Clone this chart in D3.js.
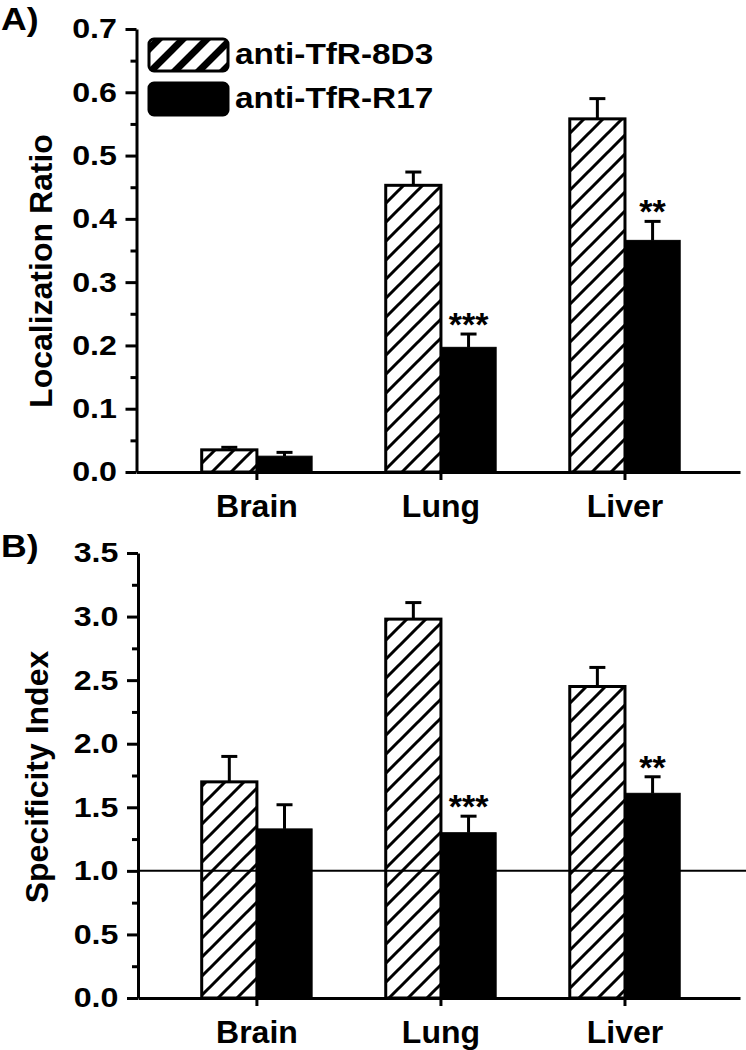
<!DOCTYPE html>
<html><head><meta charset="utf-8">
<script src="https://cdn.jsdelivr.net/npm/d3@7"></script>
<style>body{margin:0;background:#fff}</style>
</head><body>
<svg id="c" width="746" height="1050"></svg>
<script>
// ---- data ----
const categories = ["Brain", "Lung", "Liver"];
const seriesNames = ["anti-TfR-8D3", "anti-TfR-R17"];
const ratio8D3 = [0.035, 0.453, 0.558];
const ratio8D3Err = [0.004, 0.021, 0.032];
const ratioR17 = [0.025, 0.197, 0.366];
const ratioR17Err = [0.006, 0.021, 0.030];
const ratioStars = ["", "***", "**"];
const spec8D3 = [1.70, 2.98, 2.45];
const spec8D3Err = [0.20, 0.13, 0.15];
const specR17 = [1.33, 1.30, 1.61];
const specR17Err = [0.19, 0.13, 0.13];
const specStars = ["", "***", "**"];
const ratioTicks = [0.0, 0.1, 0.2, 0.3, 0.4, 0.5, 0.6, 0.7];
const ratioMinor = [0.05, 0.15, 0.25, 0.35, 0.45, 0.55, 0.65];
const specTicks = [0.0, 0.5, 1.0, 1.5, 2.0, 2.5, 3.0, 3.5];
const specMinor = [0.25, 0.75, 1.25, 1.75, 2.25, 2.75, 3.25];
const specRefValue = 1.0;

// ---- drawing ----
const FONT = "'Liberation Sans', Arial, Helvetica, sans-serif";
const svg = d3.select("#c");
const defs = svg.append("defs");
const p1 = defs.append("pattern").attr("id", "hatch").attr("patternUnits", "userSpaceOnUse")
  .attr("width", 19).attr("height", 19);
p1.append("rect").attr("width", 19).attr("height", 19).attr("fill", "#fff");
p1.append("path").attr("d", "M-5,24L24,-5M-5,5L5,-5M14,24L24,14")
  .attr("stroke", "#000").attr("stroke-width", 3);
const p2 = defs.append("pattern").attr("id", "hatchL").attr("patternUnits", "userSpaceOnUse")
  .attr("width", 24).attr("height", 24).attr("x", 6);
p2.append("rect").attr("width", 24).attr("height", 24).attr("fill", "#fff");
p2.append("path").attr("d", "M-6,30L30,-6M-6,6L6,-6M18,30L30,18")
  .attr("stroke", "#000").attr("stroke-width", 7);

const x = d3.scaleLinear().domain([0.343, 3.625]).range([136, 740]);
const barW = 0.3;

function panel(o) {
  const g = svg.append("g");
  const y = d3.scaleLinear().domain([0, o.yMax]).range([o.bottom, o.top]);
  const xs = d3.scaleLinear().domain(x.domain()).range([o.axisX, 740]);

  // bars
  g.selectAll(".b1").data(categories).join("rect")
    .attr("x", (d, i) => x(i + 1 - barW)).attr("width", (d, i) => x(i + 1) - x(i + 1 - barW))
    .attr("y", (d, i) => y(o.v1[i])).attr("height", (d, i) => y(0) - y(o.v1[i]))
    .attr("fill", "url(#hatch)").attr("stroke", "#000").attr("stroke-width", 3);
  g.selectAll(".b2").data(categories).join("rect")
    .attr("x", (d, i) => x(i + 1)).attr("width", (d, i) => x(i + 1 + barW) - x(i + 1))
    .attr("y", (d, i) => y(o.v2[i])).attr("height", (d, i) => y(0) - y(o.v2[i]))
    .attr("fill", "#000").attr("stroke", "#000").attr("stroke-width", 1);

  // error bars
  function err(vals, errs, off) {
    categories.forEach((c, i) => {
      const cx = x(i + 1 + off);
      g.append("line").attr("x1", cx).attr("x2", cx)
        .attr("y1", y(vals[i])).attr("y2", y(vals[i] + errs[i]))
        .attr("stroke", "#000").attr("stroke-width", 3);
      g.append("line").attr("x1", cx - 8).attr("x2", cx + 8)
        .attr("y1", y(vals[i] + errs[i])).attr("y2", y(vals[i] + errs[i]))
        .attr("stroke", "#000").attr("stroke-width", 3);
    });
  }
  err(o.v1, o.e1, -barW / 2);
  err(o.v2, o.e2, barW / 2);

  // stars
  g.selectAll(".st").data(o.stars).join("text")
    .attr("x", (d, i) => x(i + 1 + barW / 2))
    .attr("y", (d, i) => y(o.v2[i] + o.e2[i]) + 2)
    .attr("text-anchor", "middle").attr("font-family", FONT).attr("font-weight", "bold")
    .attr("font-size", 34).text(d => d);

  // reference line
  if (o.refLine !== undefined) {
    g.append("line").attr("x1", o.axisX).attr("x2", 746)
      .attr("y1", y(o.refLine)).attr("y2", y(o.refLine))
      .attr("stroke", "#000").attr("stroke-width", 2);
  }

  // y axis
  const ya = g.append("g").attr("transform", `translate(${o.axisX},0)`)
    .call(d3.axisLeft(y).tickValues(o.ticks).tickSize(11).tickSizeOuter(0).tickPadding(6)
      .tickFormat(d3.format(".1f")));
  ya.select(".domain").attr("stroke-width", 3);
  ya.selectAll(".tick line").attr("stroke-width", 3);
  ya.selectAll("text").attr("font-family", FONT).attr("font-weight", "bold")
    .attr("font-size", 28).attr("transform", "scale(1.15,1)").attr("fill", "#000");
  const ym = g.append("g").attr("transform", `translate(${o.axisX},0)`)
    .call(d3.axisLeft(y).tickValues(o.minor).tickSize(6).tickFormat(""));
  ym.select(".domain").remove();
  ym.selectAll(".tick line").attr("stroke-width", 3);

  // x axis
  const xa = g.append("g").attr("transform", `translate(0,${o.bottom})`)
    .call(d3.axisBottom(xs).tickValues([1, 2, 3]).tickSize(8).tickSizeOuter(0).tickPadding(14)
      .tickFormat(i => categories[i - 1]));
  xa.select(".domain").attr("stroke-width", 3);
  xa.selectAll(".tick").attr("transform", (d) => `translate(${x(d)},0)`);
  xa.selectAll(".tick line").attr("stroke-width", 3);
  xa.selectAll("text").attr("font-family", FONT).attr("font-weight", "bold")
    .attr("font-size", 32).attr("fill", "#000");

  // y label
  g.append("text").attr("transform", `translate(${o.labelX},${o.labelY}) rotate(-90)`)
    .attr("text-anchor", "middle").attr("font-family", FONT).attr("font-weight", "bold")
    .attr("font-size", 32).text(o.label);

  // panel letter
  g.append("text").attr("transform", `translate(1,${o.letterY}) scale(1.15,1)`)
    .attr("font-family", FONT).attr("font-weight", "bold").attr("font-size", 31).text(o.letter);
  return g;
}

panel({v1: ratio8D3, e1: ratio8D3Err, v2: ratioR17, e2: ratioR17Err, stars: ratioStars,
  ticks: ratioTicks, minor: ratioMinor, yMax: 0.7, top: 29, bottom: 472, axisX: 136.5,
  label: "Localization Ratio", labelX: 52, labelY: 271, letter: "A)", letterY: 30});
panel({v1: spec8D3, e1: spec8D3Err, v2: specR17, e2: specR17Err, stars: specStars,
  ticks: specTicks, minor: specMinor, yMax: 3.5, top: 553, bottom: 998, axisX: 138,
  label: "Specificity Index", labelX: 48, labelY: 777, letter: "B)", letterY: 557,
  refLine: specRefValue});

// legend
const lg = svg.append("g");
const fills = ["url(#hatchL)", "#000"];
lg.selectAll("rect").data(seriesNames).join("rect")
  .attr("x", 149).attr("y", (d, i) => 39 + i * 44).attr("width", 79).attr("height", 32)
  .attr("rx", 5).attr("fill", (d, i) => fills[i]).attr("stroke", "#000").attr("stroke-width", 3);
lg.selectAll("text").data(seriesNames).join("text")
  .attr("transform", (d, i) => `translate(235,${64 + i * 44}) scale(1.15,1)`)
  .attr("font-family", FONT).attr("font-weight", "bold").attr("font-size", 29).text(d => d);
</script>
</body></html>
